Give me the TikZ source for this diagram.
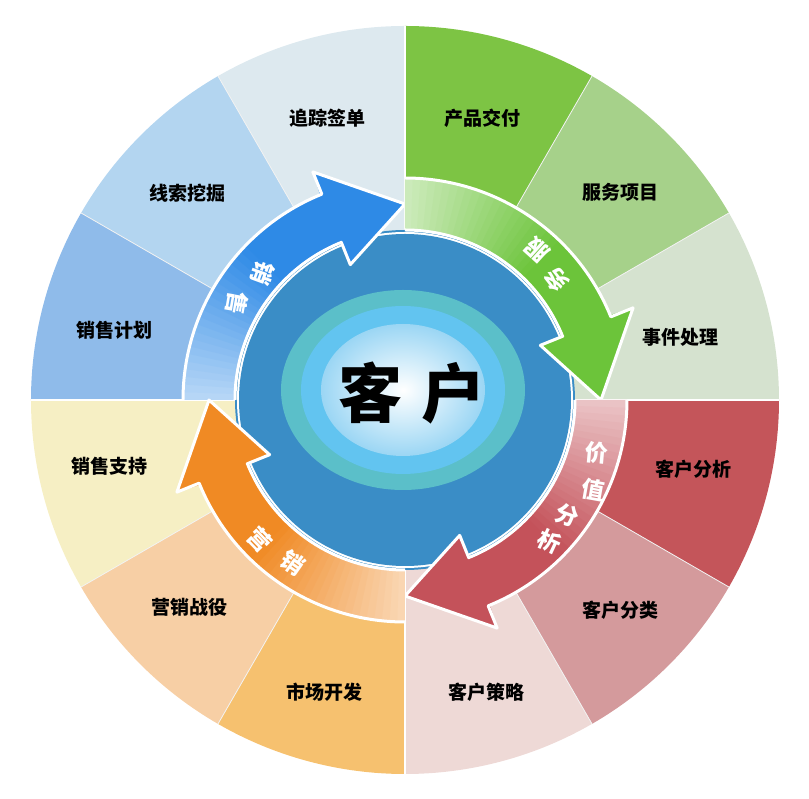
\documentclass[tikz,border=0pt]{standalone}
\usepackage{fontspec}
\newfontfamily\cjk{Noto Sans CJK SC}
\usetikzlibrary{shapes.geometric}
\definecolor{g1}{HTML}{7DC444}\definecolor{g2}{HTML}{A6D18A}\definecolor{g3}{HTML}{D5E2CF}
\definecolor{r1}{HTML}{C4555A}\definecolor{r2}{HTML}{D49A9C}\definecolor{r3}{HTML}{EED9D6}
\definecolor{o1}{HTML}{F6C16F}\definecolor{o2}{HTML}{F7CFA5}\definecolor{o3}{HTML}{F6EFC4}
\definecolor{b1}{HTML}{8FBBEA}\definecolor{b2}{HTML}{B3D5F0}\definecolor{b3}{HTML}{DDE9EF}
\definecolor{ablue}{HTML}{2E8AE6}\definecolor{agreen}{HTML}{6CC43A}
\definecolor{ared}{HTML}{C4525A}\definecolor{aorange}{HTML}{F08A24}
\definecolor{core}{HTML}{3A8DC6}
\definecolor{glowA}{HTML}{5BBFC9}\definecolor{glowB}{HTML}{62C4F0}\definecolor{glowC}{HTML}{9BD6F4}
\tikzset{
  seclabel/.style={font=\cjk\bfseries\fontsize{19}{19}\selectfont, text=black},
  arrlabel/.style={font=\cjk\bfseries\fontsize{23}{23}\selectfont, text=white, inner sep=0pt},
}
\newcommand{\sector}[3]{\fill[#3] (0,0) -- (#1:374) arc[start angle=#1, end angle=#2, radius=374] -- cycle;}
\newcommand{\myarrow}[2]{%
  \foreach \i in {0,...,33}{%
    \pgfmathsetmacro{\aa}{#1+90-2*\i}%
    \pgfmathsetmacro{\ab}{#1+90-2*\i-2.5}%
    \pgfmathtruncatemacro{\p}{min(100,35+3*\i)}%
    \fill[#2!\p!white] (\aa:222) arc[start angle=\aa, end angle=\ab, radius=222] -- (\ab:170) arc[start angle=\ab, end angle=\aa, radius=170] -- cycle;
  }%
  \fill[#2] (#1+22.5:222) -- (#1+22:246) -- (#1:196) -- (#1+22:146) -- (#1+22.5:170) -- cycle;
  \draw[white, line width=3pt, line join=round] (#1+90:222) arc[start angle=#1+90, end angle=#1+22, radius=222] -- (#1+22:246) -- (#1:196) -- (#1+22:146) -- (#1+22:170) arc[start angle=#1+22, end angle=#1+90, radius=170];
}
\begin{document}
\begin{tikzpicture}[x=1pt,y=1pt]
\useasboundingbox (-405,-399) rectangle (404,400);
% sectors
\sector{60}{90}{g1}\sector{30}{60}{g2}\sector{0}{30}{g3}
\sector{-30}{0}{r1}\sector{-60}{-30}{r2}\sector{-90}{-60}{r3}
\sector{-120}{-90}{o1}\sector{-150}{-120}{o2}\sector{180}{210}{o3}
\sector{150}{180}{b1}\sector{120}{150}{b2}\sector{90}{120}{b3}
\foreach \a in {30,60,120,150,210,240,300,330}{\draw[white!90!gray, line width=0.8pt] (0,0) -- (\a:374);}
\foreach \a in {0,90,180,270}{\draw[white, line width=2.5pt] (0,0) -- (\a:374);}
% core
\fill[core] (0,0) circle[radius=170];
\fill[white] (0,0) circle[radius=168] ;
\fill[core] (0,0) circle[radius=166];
\fill[glowA] (-2,10) ellipse[x radius=122, y radius=100];
\fill[glowB] (-2,10) ellipse[x radius=102, y radius=84];
\shade[inner color=white, outer color=glowC] (-2,10) ellipse[x radius=82, y radius=66];
% arrows
\myarrow{90}{ablue}
\myarrow{0}{agreen}
\myarrow{-90}{ared}
\myarrow{180}{aorange}
% center text
\node (center) [font=\cjk\bfseries\fontsize{64}{64}\selectfont, text=black] at (7,7) {客\hspace{0.3em}户};
% arrow labels
\node[arrlabel, rotate=250] (l1) at (-142,127) {销};
\node[arrlabel, rotate=260] (l2) at (-168,97) {售};
\node[arrlabel, rotate=138] (l3) at (132,150) {服};
\node[arrlabel, rotate=128] (l4) at (152,120) {务};
\node[arrlabel, rotate=-5] (l5) at (192,-53) {价};
\node[arrlabel, rotate=-10] (l6) at (188,-90) {值};
\node[arrlabel, rotate=-20] (l7) at (162,-115) {分};
\node[arrlabel, rotate=-25] (l8) at (145,-141) {析};
\node[arrlabel, rotate=314] (l9) at (-145,-140) {营};
\node[arrlabel, rotate=325] (l10) at (-112,-163) {销};
% sector labels
\node[seclabel] (s1) at (78,282) {产品交付};
\node[seclabel] (s2) at (215,208) {服务项目};
\node[seclabel] (s3) at (275,63) {事件处理};
\node[seclabel] (s4) at (288,-69) {客户分析};
\node[seclabel] (s5) at (215,-210) {客户分类};
\node[seclabel] (s6) at (82,-292) {客户策略};
\node[seclabel] (s7) at (-80,-292) {市场开发};
\node[seclabel] (s8) at (-215,-207) {营销战役};
\node[seclabel] (s9) at (-295,-66) {销售支持};
\node[seclabel] (s10) at (-290,70) {销售计划};
\node[seclabel] (s11) at (-217,207) {线索挖掘};
\node[seclabel] (s12) at (-77,282) {追踪签单};
\end{tikzpicture}
\end{document}
